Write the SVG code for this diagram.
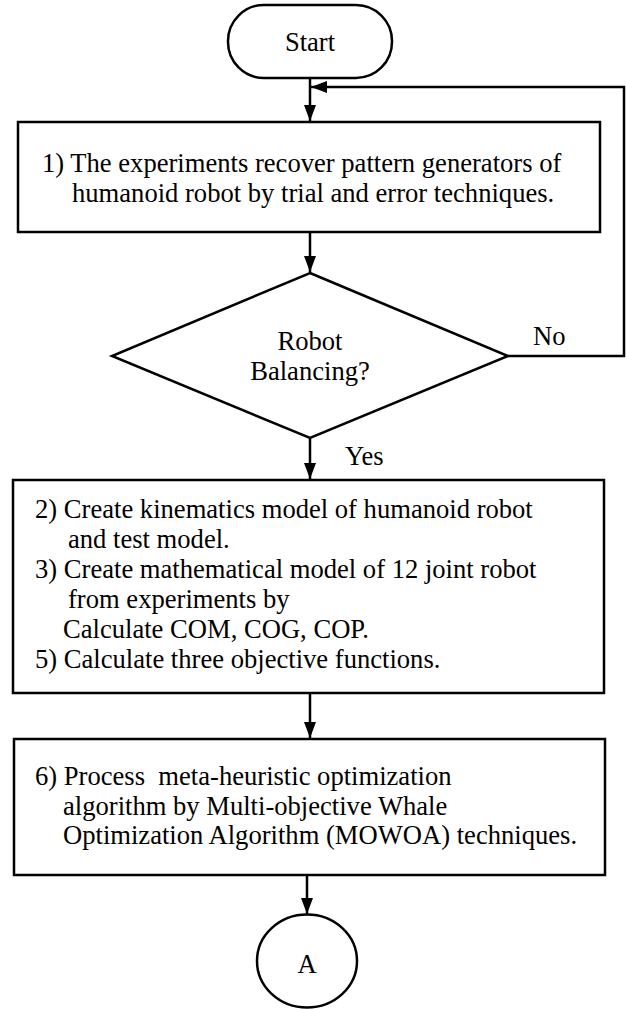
<svg xmlns="http://www.w3.org/2000/svg" width="626" height="1009" viewBox="0 0 626 1009" font-family="'Liberation Serif', 'Times New Roman', serif">
<defs>
<marker id="ah" viewBox="0 0 16 12" refX="16" refY="6" markerWidth="16" markerHeight="12" markerUnits="userSpaceOnUse" orient="auto">
<path d="M0,0 L16,6 L0,12 Z" fill="#000"/>
</marker>
</defs>
<style>
.s{fill:#fff;stroke:#000;stroke-width:2.5}
.c{fill:none;stroke:#000;stroke-width:2.5}
text{font-family:"Liberation Serif","Times New Roman",serif;font-size:26.6px;fill:#000}
.m{text-anchor:middle}
</style>
<rect width="626" height="1009" fill="#fff"/>
<g id="connectors">
<line class="c" x1="310" y1="78" x2="310" y2="121" marker-end="url(#ah)"/>
<polyline class="c" points="508,356 624,356 624,87 311,87" marker-end="url(#ah)"/>
<line class="c" x1="310" y1="232" x2="310" y2="272" marker-end="url(#ah)"/>
<line class="c" x1="310" y1="438" x2="310" y2="479" marker-end="url(#ah)"/>
<line class="c" x1="310" y1="693" x2="310" y2="738" marker-end="url(#ah)"/>
<line class="c" x1="307" y1="875" x2="307" y2="914" marker-end="url(#ah)"/>
<text x="533" y="345">No</text>
<text x="345" y="465">Yes</text>
</g>
<g id="start">
<rect class="s" x="228" y="5" width="164" height="73" rx="36" ry="36"/>
<text class="m" x="310" y="51">Start</text>
</g>
<g id="step1">
<rect class="s" x="18" y="122" width="582" height="110"/>
<text x="42" y="172">1) The experiments recover pattern generators of</text>
<text x="72" y="202">humanoid robot by trial and error techniques.</text>
</g>
<g id="decision">
<polygon class="s" points="310,273 508,356 310,438 112,356"/>
<text class="m" x="310" y="350">Robot</text>
<text class="m" x="310" y="380">Balancing?</text>
</g>
<g id="step2">
<rect class="s" x="13" y="480" width="591" height="213"/>
<text x="35" y="518">2) Create kinematics model of humanoid robot</text>
<text x="68" y="548">and test model.</text>
<text x="35" y="578">3) Create mathematical model of 12 joint robot</text>
<text x="68" y="608">from experiments by</text>
<text x="63" y="638">Calculate COM, COG, COP.</text>
<text x="35" y="668">5) Calculate three objective functions.</text>
</g>
<g id="step6">
<rect class="s" x="14" y="739" width="591" height="136"/>
<text x="35" y="785" xml:space="preserve">6) Process  meta-heuristic optimization</text>
<text x="63" y="815">algorithm by Multi-objective Whale</text>
<text x="63" y="844">Optimization Algorithm (MOWOA) techniques.</text>
</g>
<g id="connectorA">
<ellipse class="s" cx="307" cy="961" rx="50" ry="46.5"/>
<text class="m" x="307" y="973">A</text>
</g>
</svg>
